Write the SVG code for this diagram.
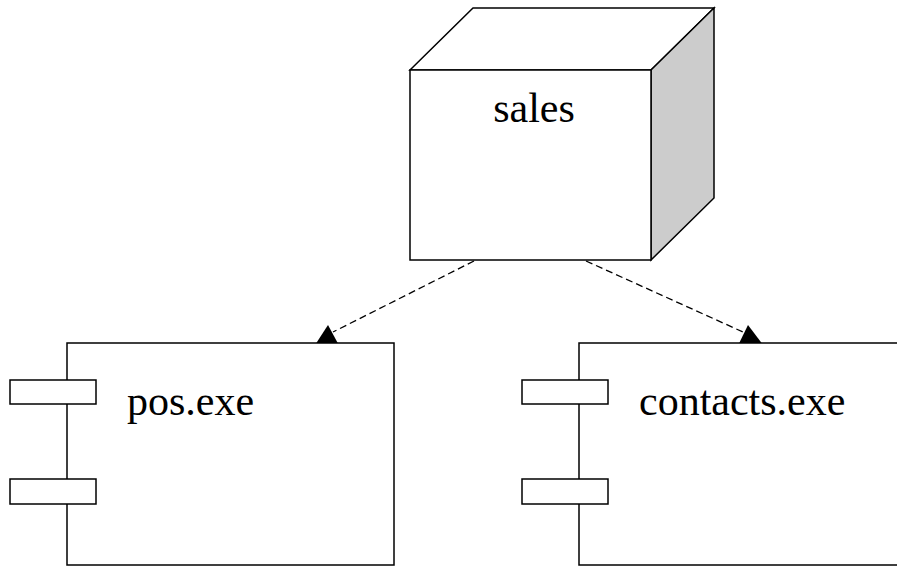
<svg xmlns="http://www.w3.org/2000/svg" width="897" height="567" viewBox="0 0 897 567">
<style>
.s{stroke:#000;stroke-width:1.5;fill:#fff}
.t{font-family:"Liberation Serif","Times New Roman",serif;font-size:42px;fill:#000}
.d{stroke:#000;stroke-width:1.3;stroke-dasharray:7 4;fill:none}
.h{fill:#000;stroke:none}
</style>
<rect width="897" height="567" fill="#fff"/>
<g id="connectors">
<line class="d" x1="474" y1="261" x2="333" y2="332"/>
<polygon class="h" points="316,343.5 328,325 338,343.5"/>
<line class="d" x1="586" y1="261" x2="743" y2="332"/>
<polygon class="h" points="739,343.5 748,325 762,343.5"/>
</g>
<g id="sales">
<polygon class="s" points="410,70 473,8 714,8 651,70"/>
<polygon class="s" style="fill:#cccccc" points="651,70 714,8 714,198 651,260"/>
<rect class="s" x="410" y="70" width="241" height="190"/>
<text class="t" x="534" y="122" text-anchor="middle">sales</text>
</g>
<g id="pos">
<rect class="s" x="67" y="343" width="327" height="222"/>
<rect class="s" x="10" y="380" width="86" height="24"/>
<rect class="s" x="10" y="479" width="86" height="25"/>
<text class="t" x="127" y="415">pos.exe</text>
</g>
<g id="contacts">
<rect class="s" x="579" y="343" width="340" height="222"/>
<rect class="s" x="522" y="380" width="86" height="24"/>
<rect class="s" x="522" y="479" width="86" height="25"/>
<text class="t" x="639" y="415">contacts.exe</text>
</g>
</svg>
